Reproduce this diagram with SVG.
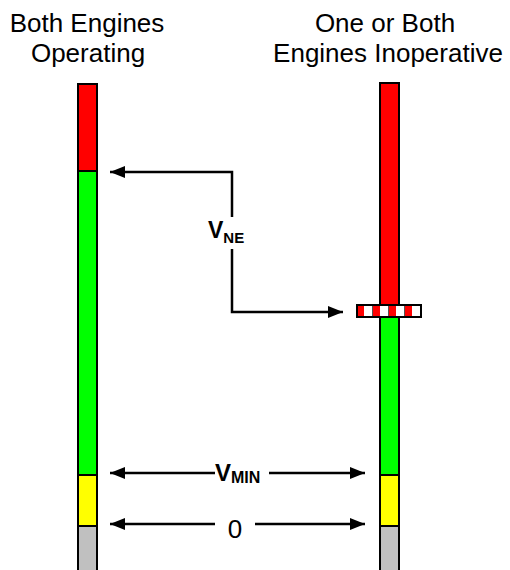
<svg xmlns="http://www.w3.org/2000/svg" width="510" height="570" viewBox="0 0 510 570">
<style>
.t{font-family:"Liberation Sans",Arial,sans-serif;fill:#000}
.h{font-size:26px}
.seg{stroke:#000;stroke-width:2}
.ln{stroke:#000;stroke-width:2.5;fill:none}
</style>
<defs>
<marker id="ah" markerWidth="16" markerHeight="12" refX="15" refY="6" orient="auto" markerUnits="userSpaceOnUse">
<path d="M0,0 L15,6 L0,12 Z" fill="#000"/>
</marker>
</defs>
<rect width="510" height="570" fill="#fff"/>
<g id="title-left">
<text class="t h" x="87" y="32" text-anchor="middle">Both Engines</text>
<text class="t h" x="88" y="62" text-anchor="middle">Operating</text>
</g>
<g id="title-right">
<text class="t h" x="385" y="32" text-anchor="middle">One or Both</text>
<text class="t h" x="388" y="62" text-anchor="middle">Engines Inoperative</text>
</g>
<g id="bar-left">
<rect class="seg" x="78" y="84" width="19" height="87" fill="#ff0000"/>
<rect class="seg" x="78" y="171" width="19" height="304" fill="#00ff00"/>
<rect class="seg" x="78" y="475" width="19" height="51" fill="#ffff00"/>
<rect class="seg" x="78" y="526" width="19" height="50" fill="#c0c0c0"/>
</g>
<g id="bar-right">
<rect class="seg" x="380" y="83" width="19" height="222" fill="#ff0000"/>
<rect class="seg" x="380" y="317" width="19" height="158" fill="#00ff00"/>
<rect class="seg" x="380" y="475" width="19" height="51" fill="#ffff00"/>
<rect class="seg" x="380" y="526" width="19" height="50" fill="#c0c0c0"/>
</g>
<g id="band">
<rect x="357" y="305" width="64" height="12" fill="#fff" stroke="#000" stroke-width="2"/>
<rect x="358" y="306" width="6" height="10" fill="#ff0000"/>
<rect x="373" y="306" width="7" height="10" fill="#ff0000"/>
<rect x="389" y="306" width="7" height="10" fill="#ff0000"/>
<rect x="405" y="306" width="7" height="10" fill="#ff0000"/>
<line x1="372.5" y1="306" x2="372.5" y2="316" stroke="#555" stroke-width="1"/>
<line x1="388.5" y1="306" x2="388.5" y2="316" stroke="#555" stroke-width="1"/>
<line x1="404.5" y1="306" x2="404.5" y2="316" stroke="#555" stroke-width="1"/>
</g>
<g id="connectors">
<path class="ln" d="M232,217 L232,172 L110,172" marker-end="url(#ah)"/>
<path class="ln" d="M232,249 L232,312 L343,312" marker-end="url(#ah)"/>
<path class="ln" d="M215,473 L110,473" marker-end="url(#ah)"/>
<path class="ln" d="M269,473 L365,473" marker-end="url(#ah)"/>
<path class="ln" d="M215,524 L110,524" marker-end="url(#ah)"/>
<path class="ln" d="M255,524 L365,524" marker-end="url(#ah)"/>
</g>
<g id="labels">
<text class="t" x="208" y="238" font-size="23" font-weight="bold">V<tspan font-size="15" dy="5">NE</tspan></text>
<text class="t" x="215" y="481" font-size="24" font-weight="bold">V<tspan font-size="16" dy="2">MIN</tspan></text>
<text class="t" x="235" y="538" font-size="26" text-anchor="middle">0</text>
</g>
</svg>
